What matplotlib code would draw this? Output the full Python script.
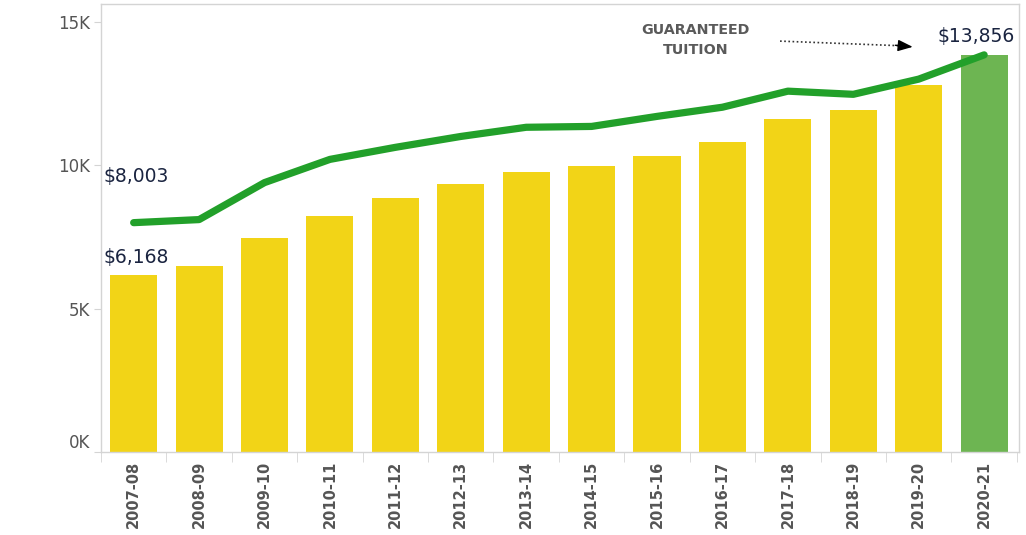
import matplotlib
matplotlib.use("Agg")
import matplotlib.pyplot as plt

# academic years, bar values (yellow/green bars) and line values (green line)
years = ['2007-08', '2008-09', '2009-10', '2010-11', '2011-12', '2012-13', '2013-14',
         '2014-15', '2015-16', '2016-17', '2017-18', '2018-19', '2019-20', '2020-21']
bar_vals = [6168, 6500, 7480, 8220, 8850, 9340, 9760,
            9970, 10320, 10800, 11610, 11920, 12800, 13856]
line_vals = [8003, 8110, 9400, 10210, 10630, 11010, 11330,
             11360, 11710, 12030, 12590, 12480, 13010, 13856]
ytick_vals = [0, 5000, 10000, 15000]
ytick_text = ['0K', '5K', '10K', '15K']

yellow = '#F2D417'
green_bar = '#6DB552'
green_line = '#22A02A'
grey = '#d4d4d4'

fig = plt.figure(figsize=(10.26, 5.35), dpi=100)
ax = fig.add_axes([0.0984, 0.155, 0.8946, 0.8375])

x = list(range(len(years)))
colors = [yellow] * (len(years) - 1) + [green_bar]
ax.bar(x, bar_vals, width=0.72, color=colors, zorder=2)
ax.plot(x, line_vals, color=green_line, lw=5.2, solid_capstyle='round',
        solid_joinstyle='round', zorder=3)

ax.set_xlim(-0.5, len(years) - 0.47)
ax.set_ylim(0, 15630)

ax.set_yticks(ytick_vals)
ax.set_yticklabels(ytick_text)
ax.tick_params(axis='y', length=5, color=grey, labelcolor='#555555', labelsize=12, pad=3)
ax.get_yticklabels()[0].set_va('bottom')

ax.set_xticks(x)
ax.set_xticklabels(years, rotation=90, fontsize=10.5, fontweight='bold', color='#555555')
ax.tick_params(axis='x', length=0, pad=6)
ax.set_xticks([i - 0.5 for i in range(len(years) + 1)], minor=True)
ax.tick_params(axis='x', which='minor', length=7, color=grey)

for side in ['left', 'bottom', 'top', 'right']:
    ax.spines[side].set_color(grey)
    ax.spines[side].set_linewidth(1)

txt_col = '#1a2440'
ax.annotate(f"${line_vals[0]:,}", xy=(0, line_vals[0]), xytext=(-30, 46),
            textcoords='offset pixels', ha='left', va='center', fontsize=13.5, color=txt_col)
ax.annotate(f"${bar_vals[0]:,}", xy=(0, bar_vals[0]), xytext=(-30, 18),
            textcoords='offset pixels', ha='left', va='center', fontsize=13.5, color=txt_col)
ax.annotate(f"${line_vals[-1]:,}", xy=(x[-1], line_vals[-1]), xytext=(31, 18),
            textcoords='offset pixels', ha='right', va='center', fontsize=13.5, color=txt_col)

ax.text(8.59, 14370, 'GUARANTEED\nTUITION', ha='center', va='center', fontsize=10.3,
        fontweight='bold', color='#5a5a5a', linespacing=1.5)
ax.plot([9.88, 11.7], [14336, 14176], color='#333333', lw=1.2, ls=(0, (1, 1.5)))
ax.annotate('', xy=(11.95, 14126), xytext=(11.6, 14200),
            arrowprops=dict(arrowstyle='-|>,head_length=0.9,head_width=0.35',
                            color='black', lw=1))

fig.savefig('out.png', dpi=100)
